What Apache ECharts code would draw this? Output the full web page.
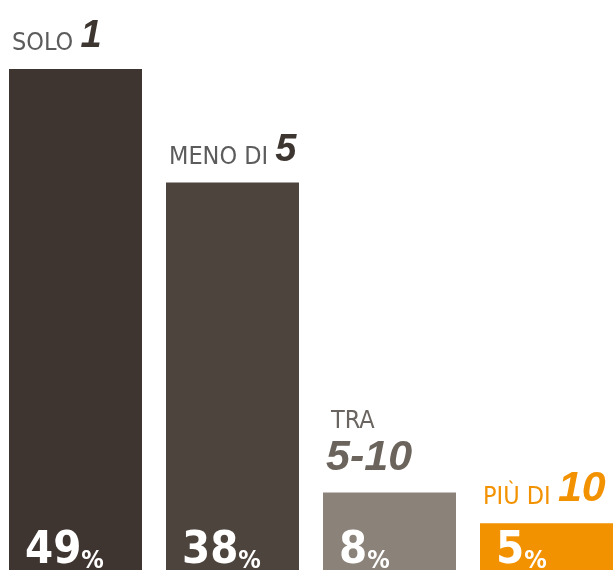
<!DOCTYPE html>
<html><head><meta charset="utf-8">
<script src="https://cdn.jsdelivr.net/npm/echarts@6/dist/echarts.min.js"></script>
<style>html,body{margin:0;padding:0;background:#fff;overflow:hidden;width:614px;height:570px}#c{width:628px;height:575px;margin-left:-3px}</style>
</head><body><div id="c"></div>
<script>
const categories = ['SOLO', 'MENO DI', 'TRA', 'PIÙ DI'];
const numbers = ['1', '5', '5-10', '10'];
const values = [49, 38, 8, 5];
const barColors = ['#3f3530', '#4d443e', '#8b8279', '#f39200'];
const wordColors = ['#5c5c5c', '#5c5c5c', '#6a6560', '#f39200'];
const numColors = ['#3d3530', '#3d3530', '#6b645d', '#f39200'];
const numSizes = [38, 38, 43, 43];

const narrow = '"DejaVu Sans Condensed","Liberation Sans Narrow",sans-serif';
const chart = echarts.init(document.getElementById('c'), null, {renderer: 'canvas'});

const rich = {};
for (let i = 0; i < 4; i++) {
  rich['w' + i] = {fontFamily: narrow, fontSize: 25, color: wordColors[i], verticalAlign: 'bottom', lineHeight: 32, padding: i === 2 ? [0, 0, 0, 5] : 0};
  rich['n' + i] = {fontFamily: '"Liberation Sans",sans-serif', fontWeight: 'bold', fontStyle: 'italic', fontSize: numSizes[i], color: numColors[i], verticalAlign: 'bottom', lineHeight: numSizes[i] + 2};
}
const rich2 = {
  v: {fontFamily: narrow, fontWeight: 'bold', fontSize: 45, color: '#fff', verticalAlign: 'bottom', lineHeight: 46},
  p: {fontFamily: narrow, fontWeight: 'bold', fontSize: 25, color: '#fff', verticalAlign: 'bottom', lineHeight: 40}
};

chart.setOption({
  animation: false,
  backgroundColor: '#fff',
  grid: {left: 0, right: 0, top: 69, bottom: 0, containLabel: false},
  xAxis: {type: 'category', data: categories, show: false},
  yAxis: {type: 'value', min: 0, max: 49, show: false},
  series: [
    {
      type: 'bar',
      barWidth: 133,
      data: values.map((v, i) => ({value: v, itemStyle: {color: barColors[i]}})),
      label: {
        show: true,
        position: [3, -13],
        align: 'left',
        verticalAlign: 'bottom',
        rich: rich,
        formatter: p => {
          const i = p.dataIndex;
          if (numbers[i].indexOf('-') >= 0) return '{w' + i + '|' + categories[i] + '}\n{n' + i + '|' + numbers[i] + '}';
          return '{w' + i + '|' + categories[i] + ' }{n' + i + '|' + numbers[i] + '}';
        }
      }
    },
    {
      type: 'bar',
      barWidth: 133,
      barGap: '-100%',
      silent: true,
      itemStyle: {color: 'rgba(0,0,0,0)'},
      data: values,
      label: {
        show: true,
        position: 'insideBottomLeft',
        distance: 0,
        offset: [16, -1],
        rich: rich2,
        formatter: p => '{v|' + p.value + '}{p|%}'
      }
    }
  ]
});
</script></body></html>
